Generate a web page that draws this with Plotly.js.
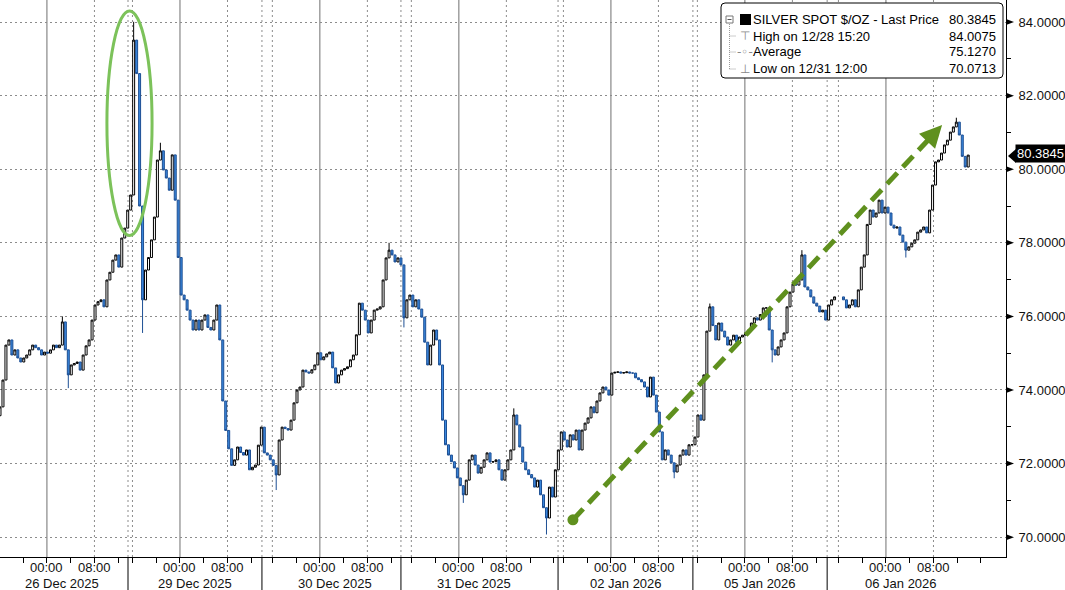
<!DOCTYPE html>
<html><head><meta charset="utf-8">
<script src="https://cdn.plot.ly/plotly-3.0.1.min.js"></script>
<style>html,body{margin:0;padding:0;background:#fff;}#chart{width:1065px;height:590px;}</style>
</head><body><div id="chart"></div>
<script>
// 30-minute bar closes, SILVER SPOT $/OZ (null = no trading)
const closes = [
73.54,74.27,75.22,75.36,74.95,75.09,74.87,74.76,74.87,74.95,
75.09,75.22,75.15,75.09,74.95,75.03,75.00,75.09,75.22,75.15,
75.22,75.85,75.09,74.41,74.68,74.72,74.76,74.54,74.95,75.20,
75.36,75.90,76.31,76.40,76.45,76.26,76.99,77.20,77.53,77.67,
77.34,78.13,78.40,78.89,79.30,83.51,82.60,79.00,76.45,77.26,
77.60,78.08,78.70,80.25,80.50,79.98,79.76,79.43,80.39,79.16,
77.60,76.58,76.45,76.17,75.90,75.63,75.90,75.63,75.90,76.04,
75.70,75.63,75.90,76.31,75.36,73.70,72.90,72.40,71.95,72.10,
72.45,72.30,72.23,72.37,71.83,71.90,71.96,72.50,72.99,72.29,
72.23,72.10,71.95,71.69,72.64,72.99,72.95,72.91,73.18,73.65,
74.00,74.08,74.54,74.49,74.46,74.55,74.68,75.01,74.82,74.90,
74.98,75.03,74.60,74.19,74.41,74.54,74.58,74.63,74.82,74.95,
75.50,76.36,76.17,75.90,75.55,75.90,76.17,76.20,76.26,76.99,
77.59,77.80,77.67,77.48,77.59,77.40,75.96,76.45,76.58,76.26,
76.45,76.20,75.98,75.30,74.68,75.22,75.63,75.36,74.68,73.18,
72.51,72.23,72.05,71.88,71.61,71.40,71.15,71.55,72.10,72.23,
71.96,71.74,71.90,72.10,72.29,72.04,72.05,72.10,71.83,71.55,
71.83,72.10,72.37,73.32,73.05,72.45,72.04,71.83,71.70,71.61,
71.36,71.55,71.15,70.80,70.52,71.36,71.09,71.83,72.37,72.86,
72.64,72.45,72.78,72.64,72.91,72.37,72.91,73.10,73.24,73.54,
73.38,73.70,73.92,74.08,74.00,73.86,74.46,74.48,74.49,74.46,
74.47,74.49,74.46,74.46,74.33,74.28,74.22,74.08,73.81,74.35,
73.86,73.40,72.86,72.10,72.37,72.23,72.02,71.77,71.96,72.23,
72.37,72.23,72.51,72.51,72.72,73.32,73.18,74.41,75.60,76.26,
75.75,75.36,75.82,75.60,75.44,75.22,75.36,75.49,75.30,75.44,
75.49,75.55,75.63,75.82,75.96,75.90,76.05,76.23,76.23,75.63,
75.09,74.95,75.17,75.36,75.55,76.26,76.66,76.88,76.85,76.99,
77.67,76.80,76.72,76.53,76.36,76.28,76.12,76.17,75.90,76.31,
76.45,76.53,null,null,76.45,76.23,76.31,76.45,76.26,76.72,
77.34,77.67,78.50,78.89,78.70,78.81,79.16,78.81,78.97,78.81,
78.48,78.40,78.43,78.21,78.02,77.80,77.89,77.99,78.08,78.29,
78.35,78.43,78.27,78.89,79.57,80.20,80.25,80.44,80.66,80.79,
81.01,81.15,81.28,80.93,80.35,80.06,80.3845
];
const firstOpen = 73.30;
// wick extremes (bar index -> value)
const highBars = [21, 45, 54, 131, 173, 239, 270, 322];
const highVals = [76.00, 84.0075, 80.72, 78.00, 73.50, 76.35, 77.80, 81.40];
const lowBars  = [23, 48, 93, 136, 156, 184, 227, 260, 305];
const lowVals  = [74.05, 75.55, 71.28, 75.70, 70.93, 70.0713, 71.60, 74.75, 77.60];

const yTicks = [70, 72, 74, 76, 78, 80, 82, 84];
const yMinor = [71, 73, 75, 77, 79, 81, 83];
const dayLabels = ['26 Dec 2025','29 Dec 2025','30 Dec 2025','31 Dec 2025','02 Jan 2026','05 Jan 2026','06 Jan 2026'];
const timeLabels = ['00:00', '08:00'];
const midnightBars = [15.8, 60.6, 107.7, 154.5, 205.7, 250.8, 298.3];   // 00:00 of each day (bar units)
const sessionBreakBars = [43.1, 88.2, 135.0, 187.9, 233.3, 278.5];

const legendLabels = ['SILVER SPOT $/OZ - Last Price', 'High on 12/28 15:20', 'Average', 'Low on 12/31 12:00'];
const legendValues = ['80.3845', '84.0075', '75.1270', '70.0713'];
const lastPrice = 80.3845;

const trendStart = [192.9, 70.47];
const trendEnd = [317.2, 81.20];
const spikeBox = [36.0, 51.2, 78.2, 84.3];

// ---------- build ----------
const X_RANGE = [0, 338.72], Y_RANGE = [69.46, 84.60];
const PW = 1006, PH = 557;
const PX = p => p / PW, PY = p => 1 - p / PH;
const toPx = (b, v) => [(b - X_RANGE[0]) / (X_RANGE[1] - X_RANGE[0]) * PW, (Y_RANGE[1] - v) / (Y_RANGE[1] - Y_RANGE[0]) * PH];
const fromPx = (x, y) => [X_RANGE[0] + x / PW * (X_RANGE[1] - X_RANGE[0]), Y_RANGE[1] - y / PH * (Y_RANGE[1] - Y_RANGE[0])];

const xs = [], op = [], hi = [], lo = [], cl = [];
let prev = firstOpen;
closes.forEach((c, i) => {
  if (c === null) return;
  let h = Math.max(prev, c), l = Math.min(prev, c);
  const hi_i = highBars.indexOf(i); if (hi_i >= 0) h = Math.max(h, highVals[hi_i]);
  const lo_i = lowBars.indexOf(i); if (lo_i >= 0) l = Math.min(l, lowVals[lo_i]);
  xs.push(i); op.push(prev); hi.push(h); lo.push(l); cl.push(c);
  prev = c;
});

const trace = {
  type: 'candlestick', x: xs, open: op, high: hi, low: lo, close: cl,
  increasing: {line: {color: '#000000', width: 1}, fillcolor: '#ffffff'},
  decreasing: {line: {color: '#1d4f94', width: 1}, fillcolor: '#3a88de'},
  whiskerwidth: 0, hoverinfo: 'skip', showlegend: false
};

// x ticks every 4h inside each session
const segs = [0].concat(sessionBreakBars).concat([X_RANGE[1]]);
const tickvals = [];
midnightBars.forEach((m, i) => {
  for (let k = -3; k <= 5; k++) {
    const t = m + 8 * k;
    if (t > segs[i] + 0.5 && t < segs[i + 1] - 0.5) tickvals.push(t);
  }
});

const shapes = [];
const vline = (x, color, dash, width) => shapes.push({type: 'line', xref: 'x', yref: 'paper', x0: x, x1: x, y0: 0, y1: 1, layer: 'below', line: {color: color, width: width || 1, dash: dash}});
midnightBars.forEach(m => {
  vline(m, '#707070', 'solid');
  vline(m + 16, '#8c8c8c', '2px,3px');
  if (m - 16 > 1) vline(m - 16, '#8c8c8c', '2px,3px');
});
sessionBreakBars.forEach(s => {
  vline(s, '#8c8c8c', '2px,3px');
  shapes.push({type: 'line', xref: 'x', yref: 'paper', x0: s, x1: s, y0: 0, y1: -33 / PH, line: {color: '#000', width: 1}});
});
// right-axis tick arrows
yTicks.forEach(v => {
  const [, py] = toPx(0, v);
  shapes.push({type: 'path', xref: 'paper', yref: 'paper',
    path: `M ${PX(1006)},${PY(py - 3)} L ${PX(1014)},${PY(py)} L ${PX(1006)},${PY(py + 3)} Z`,
    fillcolor: '#000', line: {width: 0}});
});
// legend box
(function () {
  const l = 721, r = 1003, t = 3, b = 78, rr = 4;
  const p = `M ${PX(l + rr)},${PY(t)} L ${PX(r - rr)},${PY(t)} Q ${PX(r)},${PY(t)} ${PX(r)},${PY(t + rr)} L ${PX(r)},${PY(b - rr)} Q ${PX(r)},${PY(b)} ${PX(r - rr)},${PY(b)} L ${PX(l + rr)},${PY(b)} Q ${PX(l)},${PY(b)} ${PX(l)},${PY(b - rr)} L ${PX(l)},${PY(t + rr)} Q ${PX(l)},${PY(t)} ${PX(l + rr)},${PY(t)} Z`;
  shapes.push({type: 'path', xref: 'paper', yref: 'paper', path: p, fillcolor: '#fff', line: {color: '#000', width: 1}, layer: 'above'});
  shapes.push({type: 'rect', xref: 'paper', yref: 'paper', x0: PX(726), x1: PX(733), y0: PY(23), y1: PY(16), fillcolor: '#fff', line: {color: '#777', width: 1}, layer: 'above'});
  shapes.push({type: 'line', xref: 'paper', yref: 'paper', x0: PX(727.5), x1: PX(731.5), y0: PY(19.5), y1: PY(19.5), line: {color: '#555', width: 1}, layer: 'above'});
  shapes.push({type: 'rect', xref: 'paper', yref: 'paper', x0: PX(740), x1: PX(751), y0: PY(25), y1: PY(14), fillcolor: '#000', line: {width: 0}, layer: 'above'});
  shapes.push({type: 'line', xref: 'paper', yref: 'paper', x0: PX(729.5), x1: PX(729.5), y0: PY(24), y1: PY(69), line: {color: '#999', width: 1, dash: '1px,1px'}, layer: 'above'});
  [36, 52, 69].forEach(y => shapes.push({type: 'line', xref: 'paper', yref: 'paper', x0: PX(729.5), x1: PX(736), y0: PY(y), y1: PY(y), line: {color: '#999', width: 1, dash: '1px,1px'}, layer: 'above'}));
})();
// last price tag notch
(function () {
  const [, py] = toPx(0, lastPrice);
  shapes.push({type: 'path', xref: 'paper', yref: 'paper',
    path: `M ${PX(1008)},${PY(py + 1)} L ${PX(1016)},${PY(py - 6)} L ${PX(1016)},${PY(py + 8)} Z`,
    fillcolor: '#000', line: {width: 0}});
})();
// green ellipse around spike
shapes.push({type: 'circle', xref: 'x', yref: 'y', x0: spikeBox[0], x1: spikeBox[1], y0: spikeBox[2], y1: spikeBox[3], line: {color: '#7cc25a', width: 3}, layer: 'above'});
// green dashed trend arrow
(function () {
  const [x0, y0] = toPx(trendStart[0], trendStart[1]);
  const [x1, y1] = toPx(trendEnd[0], trendEnd[1]);
  const L = Math.hypot(x1 - x0, y1 - y0), ux = (x1 - x0) / L, uy = (y1 - y0) / L;
  const hl = 22, hw = 11;
  const bx = x1 - ux * hl, by = y1 - uy * hl;
  const base = fromPx(bx + ux * 2, by + uy * 2);
  shapes.push({type: 'line', xref: 'x', yref: 'y', x0: trendStart[0], y0: trendStart[1], x1: base[0], y1: base[1], line: {color: '#5f901e', width: 5, dash: '15px,8px'}, layer: 'above'});
  const a = fromPx(x1, y1), b = fromPx(bx - uy * hw, by + ux * hw), c = fromPx(bx + uy * hw, by - ux * hw);
  shapes.push({type: 'path', xref: 'x', yref: 'y', path: `M ${a[0]},${a[1]} L ${b[0]},${b[1]} L ${c[0]},${c[1]} Z`, fillcolor: '#5f901e', line: {width: 0}, layer: 'above'});
  shapes.push({type: 'circle', xref: 'x', yref: 'y', xsizemode: 'pixel', ysizemode: 'pixel', xanchor: trendStart[0], yanchor: trendStart[1], x0: -5.5, x1: 5.5, y0: -5.5, y1: 5.5, fillcolor: '#5f901e', line: {width: 0}, layer: 'above'});
})();

const FONT = 'Liberation Sans, Arial, sans-serif';
const annotations = [];
dayLabels.forEach((d, i) => {
  annotations.push({xref: 'x', yref: 'paper', x: midnightBars[i] + 5, y: -(583 - PH) / PH, text: d, showarrow: false, xanchor: 'center', yanchor: 'middle', borderpad: 0, font: {family: FONT, size: 13, color: '#111'}});
  timeLabels.forEach((t, j) => annotations.push({xref: 'x', yref: 'paper', x: midnightBars[i] + 16 * j, y: -(567 - PH) / PH, text: t, showarrow: false, xanchor: 'center', yanchor: 'middle', borderpad: 0, font: {family: FONT, size: 13, color: '#111'}}));
});
const rowY = [19.5, 36, 52, 68.5];
legendLabels.forEach((t, i) => {
  annotations.push({xref: 'paper', yref: 'paper', x: PX(752), y: PY(rowY[i]), text: t, showarrow: false, xanchor: 'left', yanchor: 'middle', borderpad: 0, font: {family: FONT, size: 13, color: '#000'}});
  annotations.push({xref: 'paper', yref: 'paper', x: PX(997), y: PY(rowY[i]), text: legendValues[i], showarrow: false, xanchor: 'right', yanchor: 'middle', borderpad: 0, font: {family: FONT, size: 13, color: '#000'}});
});
const icons = ['', '\u22A4', '-\u25E6-', '\u22A5'];
icons.forEach((t, i) => { if (t) annotations.push({xref: 'paper', yref: 'paper', x: PX(745), y: PY(rowY[i]), text: t, showarrow: false, xanchor: 'center', yanchor: 'middle', font: {family: 'DejaVu Sans, sans-serif', size: 12, color: '#888'}}); });
annotations.push({xref: 'paper', yref: 'y', x: PX(1015), y: lastPrice + 0.03, text: lastPrice.toFixed(4), showarrow: false, xanchor: 'left', yanchor: 'middle', bgcolor: '#000', borderpad: 1, font: {family: FONT, size: 13, color: '#fff'}});

const layout = {
  width: 1065, height: 590,
  margin: {l: 0, r: 59, t: 0, b: 33, pad: 0},
  paper_bgcolor: '#fff', plot_bgcolor: '#fff',
  showlegend: false,
  boxgap: 0.05,
  xaxis: {
    range: X_RANGE, rangeslider: {visible: false}, showgrid: false, zeroline: false,
    showline: true, linecolor: '#000', linewidth: 1,
    tickmode: 'array', tickvals: tickvals, showticklabels: false,
    ticks: 'outside', ticklen: 5, tickcolor: '#000', tickwidth: 1,
    fixedrange: true
  },
  yaxis: {
    side: 'right', range: Y_RANGE, zeroline: false,
    showline: true, linecolor: '#000', linewidth: 1,
    tickmode: 'array', tickvals: yTicks, ticktext: yTicks.map(v => v.toFixed(4)),
    ticks: 'outside', ticklen: 9, tickcolor: 'rgba(0,0,0,0)',
    tickfont: {family: FONT, size: 13, color: '#111'},
    showgrid: true, gridcolor: '#8c8c8c', griddash: '2px,3px', gridwidth: 1,
    minor: {tickvals: yMinor, ticks: 'outside', ticklen: 4, tickcolor: '#000', showgrid: false},
    fixedrange: true
  },
  shapes: shapes, annotations: annotations
};

Plotly.newPlot('chart', [trace], layout, {staticPlot: true, displayModeBar: false});
</script></body></html>
